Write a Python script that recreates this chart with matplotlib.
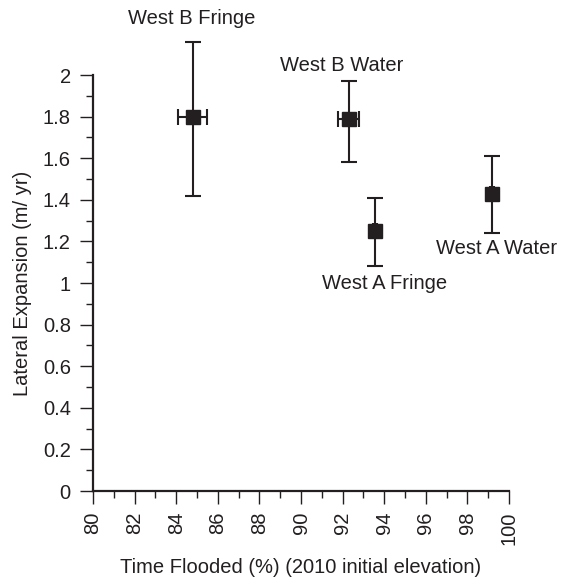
import matplotlib
matplotlib.use('Agg')
import matplotlib.pyplot as plt
from matplotlib.ticker import MultipleLocator

plt.rcParams['font.family'] = ['Liberation Sans', 'DejaVu Sans']

# data
sites = ['West B Fringe', 'West B Water', 'West A Fringe', 'West A Water']
time_flooded = [84.8, 92.3, 93.55, 99.2]
time_err = [0.7, 0.5, 0.1, 0.1]
expansion = [1.80, 1.79, 1.25, 1.43]
exp_err_up = [0.36, 0.18, 0.16, 0.18]
exp_err_down = [0.38, 0.21, 0.17, 0.19]

label_xy = [(84.75, 2.274), (91.97, 2.048), (94.04, 1.0), (99.42, 1.168)]

fig = plt.figure(figsize=(5.72, 5.78), dpi=100)
ax = fig.add_axes([0.1626, 0.1505, 0.7273, 0.7197])

ax.errorbar(time_flooded, expansion, yerr=[exp_err_down, exp_err_up], xerr=time_err,
            fmt='s', color='#231f20', ms=10, elinewidth=1.5, capsize=6, capthick=1.5,
            clip_on=False, zorder=3)

for name, (lx, ly) in zip(sites, label_xy):
    ax.text(lx, ly, name, ha='center', va='center', fontsize=14.5, color='#231f20')

ax.set_xlim(80, 100)
ax.set_ylim(0, 2)
ax.xaxis.set_minor_locator(MultipleLocator(1))
ax.yaxis.set_minor_locator(MultipleLocator(0.1))
ax.set_yticks([0, 0.2, 0.4, 0.6, 0.8, 1.0, 1.2, 1.4, 1.6, 1.8, 2.0])
ax.set_yticklabels(['0', '0.2', '0.4', '0.6', '0.8', '1', '1.2', '1.4', '1.6', '1.8', '2'])
ax.set_xticks(range(80, 101, 2))
ax.set_xticklabels([str(v) for v in range(80, 101, 2)], rotation=90)

for s in ['top', 'right']:
    ax.spines[s].set_visible(False)
for s in ['left', 'bottom']:
    ax.spines[s].set_linewidth(1.6)
    ax.spines[s].set_color('#231f20')

ax.tick_params(which='major', length=9.5, width=1.0, colors='#231f20', labelsize=14.5)
ax.tick_params(which='minor', length=5, width=1.0, colors='#231f20')
ax.tick_params(axis='x', pad=5)
ax.tick_params(axis='y', pad=6.5)

ax.set_xlabel('Time Flooded (%) (2010 initial elevation)', fontsize=14.5, color='#231f20', labelpad=10)
ax.set_ylabel('Lateral Expansion (m/ yr)', fontsize=14.5, color='#231f20', labelpad=8)

fig.savefig('out.png', dpi=100)
